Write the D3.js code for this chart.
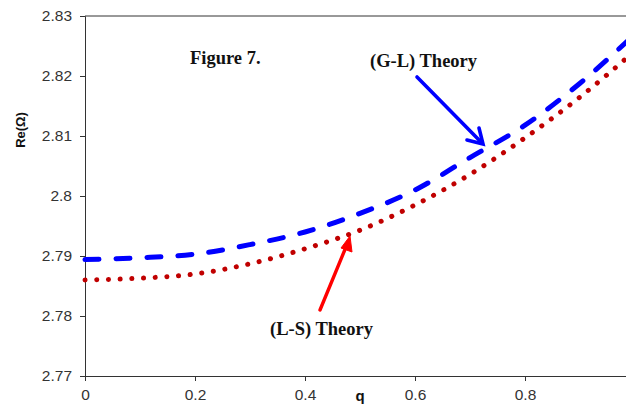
<!DOCTYPE html>
<html><head><meta charset="utf-8">
<script src="https://cdn.jsdelivr.net/npm/d3@7"></script>
<style>body{margin:0;background:#fff}svg{display:block}</style>
</head><body>
<svg id="chart" width="626" height="408"></svg>
<script>
const qValues = [0, 0.1, 0.2, 0.3, 0.4, 0.5, 0.6, 0.7, 0.8, 0.9, 1.0];
const glTheory = [2.7894, 2.7897, 2.7903, 2.7919, 2.7940, 2.7971, 2.8010, 2.8064, 2.8118, 2.8188, 2.8270];
const lsTheory = [2.7860, 2.7863, 2.7870, 2.7887, 2.7912, 2.7943, 2.7985, 2.8036, 2.8097, 2.8165, 2.8242];
const xTicks = [0, 0.2, 0.4, 0.6, 0.8];
const yTicks = [2.77, 2.78, 2.79, 2.8, 2.81, 2.82, 2.83];

const svg = d3.select("#chart");
const m = {left: 85, top: 16, right: 635, bottom: 376};
const x = d3.scaleLinear().domain([0, 1]).range([m.left, m.right]);
const y = d3.scaleLinear().domain([2.77, 2.83]).range([m.bottom, m.top]);

// top border
svg.append("line").attr("x1", m.left).attr("x2", m.right).attr("y1", m.top).attr("y2", m.top)
  .attr("stroke", "#333").attr("stroke-width", 1);

const xAxis = svg.append("g").attr("transform", `translate(0,${m.bottom})`)
  .call(d3.axisBottom(x).tickValues(xTicks).tickSizeOuter(0).tickSize(5).tickPadding(6).tickFormat(d3.format("")));
const yAxis = svg.append("g").attr("transform", `translate(${m.left},0)`)
  .call(d3.axisLeft(y).tickValues(yTicks).tickSizeOuter(0).tickSize(5).tickPadding(8).tickFormat(d3.format("")));
[xAxis, yAxis].forEach(a => {
  a.selectAll("path,line").attr("stroke", "#333");
  a.selectAll("text").attr("fill", "#333").style("font-family", "Liberation Sans, Arial, sans-serif").style("font-size", "15.5px");
});
xAxis.selectAll("text").attr("dy", "0.85em");

const line = d3.line().x((d, i) => x(qValues[i])).y(d => y(d)).curve(d3.curveMonotoneX);

svg.append("path").datum(lsTheory).attr("d", line).attr("fill", "none")
  .attr("stroke", "#c00000").attr("stroke-width", 5).attr("stroke-linecap", "round")
  .attr("stroke-dasharray", "0.1 11.6");
svg.append("path").datum(glTheory).attr("d", line).attr("fill", "none")
  .attr("stroke", "#0000ff").attr("stroke-width", 5).attr("stroke-linecap", "round")
  .attr("stroke-dasharray", "14 17");

// axis titles
svg.append("text").attr("x", 360).attr("y", 401).attr("text-anchor", "middle")
  .style("font-family", "Liberation Sans, Arial, sans-serif").style("font-weight", "bold").style("font-size", "15px")
  .attr("fill", "#111").text("q");
svg.append("text").attr("transform", "translate(25,130) rotate(-90)").attr("text-anchor", "middle")
  .style("font-family", "Liberation Sans, Arial, sans-serif").style("font-weight", "bold").style("font-size", "13px")
  .attr("fill", "#111").text("Re(Ω)");

const serif = "Liberation Serif, Times New Roman, serif";
svg.append("text").attr("x", 190).attr("y", 64).style("font-family", serif).style("font-weight", "bold")
  .style("font-size", "18.5px").attr("fill", "#111").text("Figure 7.");
svg.append("text").attr("x", 370).attr("y", 67).style("font-family", serif).style("font-weight", "bold")
  .style("font-size", "18.5px").attr("fill", "#111").text("(G-L) Theory");
svg.append("text").attr("x", 270).attr("y", 335).style("font-family", serif).style("font-weight", "bold")
  .style("font-size", "18.5px").attr("fill", "#111").text("(L-S) Theory");

// blue arrow (open chevron)
svg.append("line").attr("x1", 417).attr("y1", 77).attr("x2", 482).attr("y2", 143)
  .attr("stroke", "#0000ff").attr("stroke-width", 3.6).attr("stroke-linecap", "round");
svg.append("path").attr("d", "M479,128 L483,144 L467,140").attr("fill", "none")
  .attr("stroke", "#0000ff").attr("stroke-width", 3.6).attr("stroke-linecap", "round").attr("stroke-linejoin", "miter");

// red arrow (filled head)
svg.append("line").attr("x1", 320).attr("y1", 310).attr("x2", 346).attr("y2", 247)
  .attr("stroke", "#ff0000").attr("stroke-width", 3.4).attr("stroke-linecap", "round");
svg.append("path").attr("d", "M350,236 L352,252 L341,248 Z").attr("fill", "#ff0000").attr("stroke", "#ff0000").attr("stroke-width", 1);
</script>
</body></html>
